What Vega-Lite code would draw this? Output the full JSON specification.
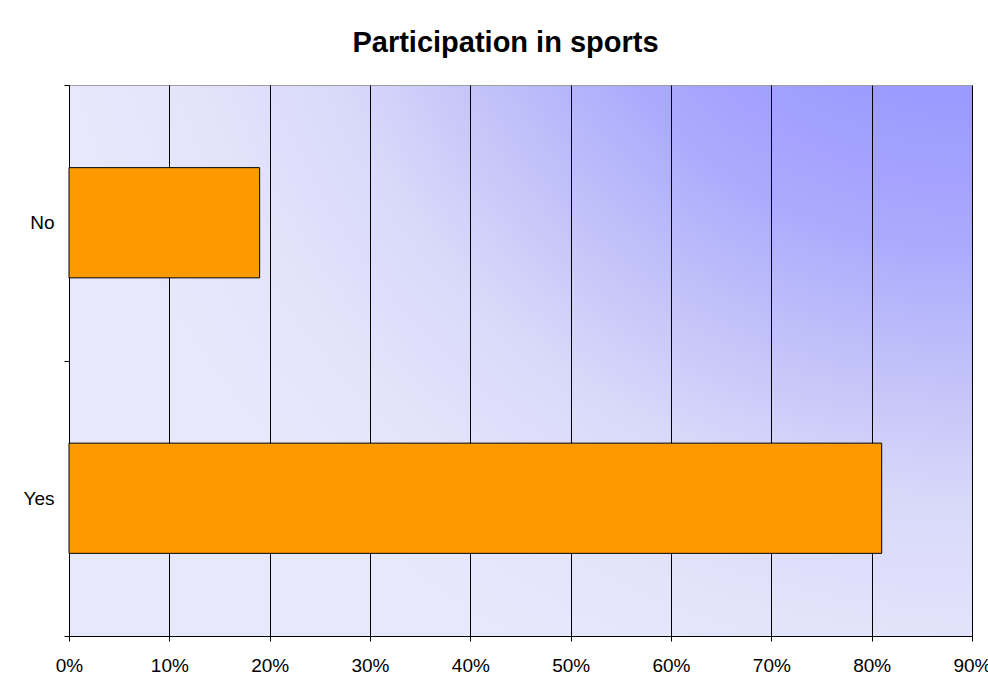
{
  "$schema": "https://vega.github.io/schema/vega-lite/v6.json",
  "autosize": {"type": "none"},
  "width": 903,
  "height": 551,
  "padding": {"left": 69, "top": 85, "right": 16, "bottom": 48},
  "background": "white",
  "title": {
    "text": "Participation in sports",
    "font": "Liberation Sans",
    "fontSize": 29,
    "fontWeight": "bold",
    "color": "black",
    "anchor": "middle",
    "baseline": "alphabetic",
    "offset": -5,
    "dx": -15
  },
  "config": {
    "view": {
      "stroke": "#a0a0a0",
      "strokeWidth": 1,
      "fill": {
        "gradient": "radial",
        "x1": 1, "y1": -0.1, "r1": 0,
        "x2": 1, "y2": -0.1, "r2": 1.05,
        "stops": [
          {"offset": 0, "color": "#9999ff"},
          {"offset": 0.3, "color": "#9b9bff"},
          {"offset": 0.45, "color": "#aaaafd"},
          {"offset": 0.6, "color": "#c4c4f9"},
          {"offset": 0.72, "color": "#d8d8fa"},
          {"offset": 0.85, "color": "#e2e2fb"},
          {"offset": 1, "color": "#e8e8fc"}
        ]
      }
    },
    "axis": {
      "labelFont": "Liberation Sans",
      "labelFontSize": 19,
      "labelColor": "black",
      "domainColor": "black",
      "tickColor": "black",
      "tickSize": 5,
      "title": null
    }
  },
  "data": {
    "values": [
      {"answer": "No", "share": 0.19},
      {"answer": "Yes", "share": 0.81}
    ]
  },
  "mark": {"type": "bar", "fill": "#ff9900", "stroke": "black", "strokeWidth": 1, "height": {"band": 0.4}},
  "encoding": {
    "y": {
      "field": "answer", "type": "nominal",
      "sort": ["No", "Yes"],
      "scale": {"paddingInner": 0, "paddingOuter": 0},
      "axis": {"tickBand": "extent", "labelPadding": 10, "labelAngle": 0}
    },
    "x": {
      "field": "share", "type": "quantitative",
      "scale": {"domain": [0, 0.9], "nice": false},
      "axis": {
        "values": [0, 0.1, 0.2, 0.3, 0.4, 0.5, 0.6, 0.7, 0.8, 0.9],
        "format": ".0%",
        "grid": true,
        "gridColor": "black",
        "gridOpacity": 1,
        "gridWidth": 1,
        "labelPadding": 15,
        "labelFlush": false
      }
    }
  }
}
